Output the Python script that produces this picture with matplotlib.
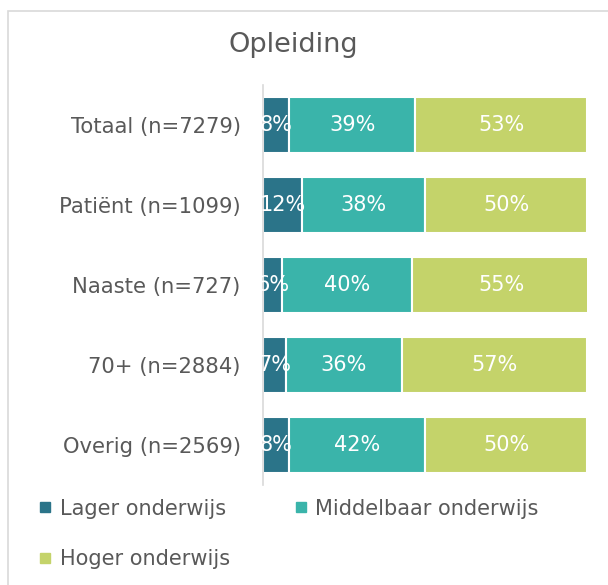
import matplotlib.pyplot as plt
from matplotlib.patches import Rectangle
from matplotlib.lines import Line2D

categories = ['Totaal (n=7279)', 'Patiënt (n=1099)', 'Naaste (n=727)', '70+ (n=2884)', 'Overig (n=2569)']
lager = [8, 12, 6, 7, 8]
middelbaar = [39, 38, 40, 36, 42]
hoger = [53, 50, 55, 57, 50]
series_names = ['Lager onderwijs', 'Middelbaar onderwijs', 'Hoger onderwijs']
colors = ['#2B7489', '#3AB4AA', '#C4D36A']
grey = '#595959'

plt.rcParams['font.family'] = ['DejaVu Sans']

fig = plt.figure(figsize=(6.08, 5.85), dpi=100)
fig.patches.append(Rectangle((8 / 608, -0.01), 1.0, 1 - 11 / 585 + 0.01, transform=fig.transFigure,
                             fill=False, edgecolor='#d9d9d9', linewidth=1.2))
ax = fig.add_axes([263 / 608, 1 - 485 / 585, 324 / 608, 400 / 585])

y = list(range(len(categories)))
left = [0] * len(categories)
for vals, c in zip([lager, middelbaar, hoger], colors):
    ax.barh(y, vals, left=left, height=0.7, color=c, edgecolor='white', linewidth=1.5)
    for i, v in enumerate(vals):
        ax.text(left[i] + v / 2, y[i], f'{v}%', ha='center', va='center', color='white', fontsize=15)
    left = [l + v for l, v in zip(left, vals)]

ax.set_xlim(0, 100)
ax.set_ylim(len(categories) - 0.5, -0.5)
ax.set_yticks(y)
ax.set_yticklabels(categories, fontsize=15.2, color=grey)
ax.tick_params(axis='y', length=0, pad=16)
ax.set_xticks([])
for s in ['top', 'right', 'bottom']:
    ax.spines[s].set_visible(False)
ax.spines['left'].set_color('#d9d9d9')
ax.spines['left'].set_linewidth(1.2)

fig.text(293 / 608, 1 - 45 / 585, 'Opleiding', ha='center', va='center', fontsize=19.5, color=grey)

# legend filled row by row: Lager, Middelbaar / Hoger
order = [0, 2, 1]
handles = [Line2D([], [], marker='s', linestyle='', markersize=7, color=colors[i]) for i in order]
labels = [series_names[i] for i in order]
fig.legend(handles, labels, ncol=2, loc='upper left', bbox_to_anchor=(18 / 608, 1 - 480 / 585),
           frameon=False, fontsize=15, labelcolor=grey, handletextpad=0.3, columnspacing=3.0,
           labelspacing=1.45, handlelength=0.8)

fig.savefig('out.png', dpi=100)
